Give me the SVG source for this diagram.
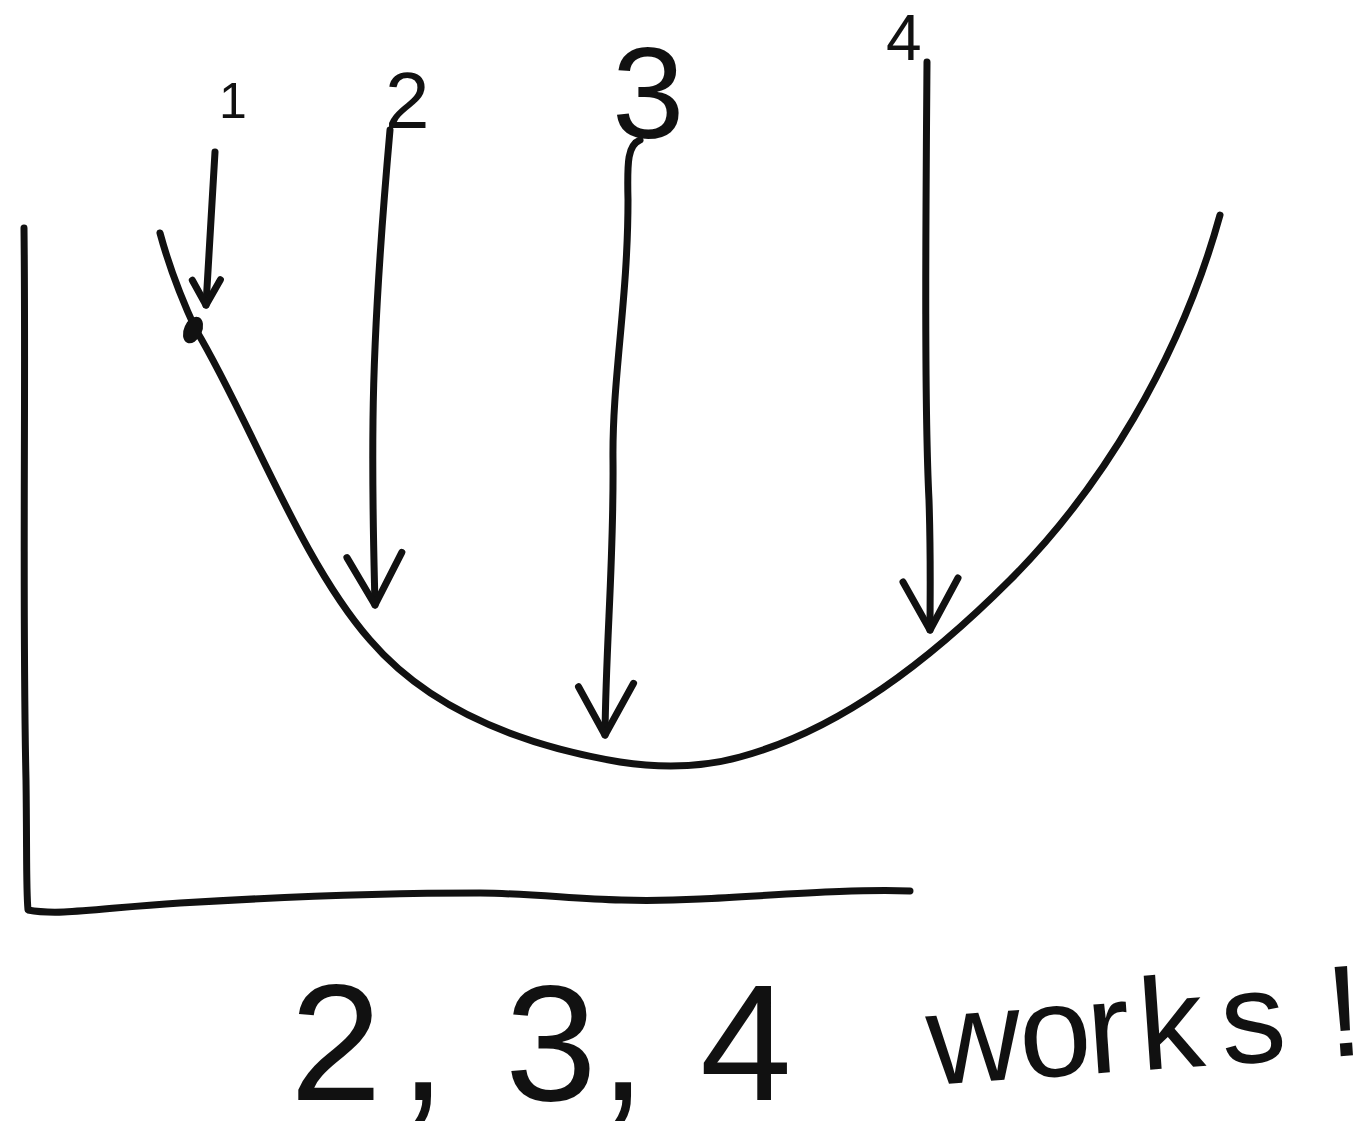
<svg xmlns="http://www.w3.org/2000/svg" width="1367" height="1142" viewBox="0 0 1367 1142">
  <style>
    .ink { fill: none; stroke: #111; stroke-width: 7; stroke-linecap: round; stroke-linejoin: round; }
    .hand { font-family: "Liberation Sans", "DejaVu Sans", sans-serif; fill: #111; }
  </style>
  <defs>
    <!-- open V arrowheads, drawn along the line direction -->
    <marker id="head" viewBox="-70 -40 80 80" markerWidth="80" markerHeight="80" markerUnits="userSpaceOnUse" orient="auto" overflow="visible">
      <path d="M -52 -28 L 0 0 L -48 27" fill="none" stroke="#111" stroke-width="7" stroke-linecap="round" stroke-linejoin="round"/>
    </marker>
    <marker id="headSmall" viewBox="-40 -25 50 50" markerWidth="50" markerHeight="50" markerUnits="userSpaceOnUse" orient="auto" overflow="visible">
      <path d="M -26 -13 L 0 0 L -24 15" fill="none" stroke="#111" stroke-width="7" stroke-linecap="round" stroke-linejoin="round"/>
    </marker>
  </defs>

  <rect width="1367" height="1142" fill="#fff"/>

  <!-- axes -->
  <g id="axes">
    <path class="ink" d="M 24 228 C 26 400 22 600 26 780 C 27 850 26 890 28 910 C 60 916 100 908 180 903 C 280 897 380 893 480 893 C 560 894 600 904 700 899 C 780 895 850 889 910 891"/>
  </g>

  <!-- the valley curve -->
  <g id="curve">
    <path class="ink" d="M 160 233 C 170 270 182 300 196 330 C 250 420 300 560 370 640 C 430 710 520 745 620 762 C 660 768 700 768 740 757 C 840 730 930 660 1010 580 C 1100 490 1180 360 1220 215"/>
    <ellipse cx="193" cy="330" rx="9" ry="14" transform="rotate(25 193 330)" fill="#111"/>
  </g>

  <!-- descending arrows -->
  <g id="connectors">
    <path id="arrow1" class="ink" d="M 215 152 C 212 200 209 250 206 305" marker-end="url(#headSmall)"/>
    <path id="arrow2" class="ink" d="M 390 130 C 382 220 374 330 373 420 C 372 500 374 560 375 605" marker-end="url(#head)"/>
    <path id="arrow3" class="ink" d="M 640 140 C 628 145 627 160 628 200 C 628 300 612 380 613 460 C 614 560 606 640 605 735" marker-end="url(#head)"/>
    <path id="arrow4" class="ink" d="M 927 62 C 926 200 924 400 929 500 C 931 560 930 600 930 630" marker-end="url(#head)"/>
  </g>

  <!-- arrow numbers -->
  <g id="labels">
    <text class="hand" x="219" y="118" font-size="50">1</text>
    <text class="hand" x="385" y="128" font-size="80">2</text>
    <text class="hand" x="612" y="138" font-size="130">3</text>
    <text class="hand" x="886" y="60" font-size="64">4</text>
  </g>

  <!-- conclusion -->
  <g id="note">
    <text class="hand" font-size="165" x="290 400 430 505 600 630 700" y="1100">2, 3, 4</text>
    <text class="hand" font-size="130" x="930 1022 1090 1142 1224 1330" y="1085" transform="rotate(-4 930 1085)">works!</text>
  </g>
</svg>
